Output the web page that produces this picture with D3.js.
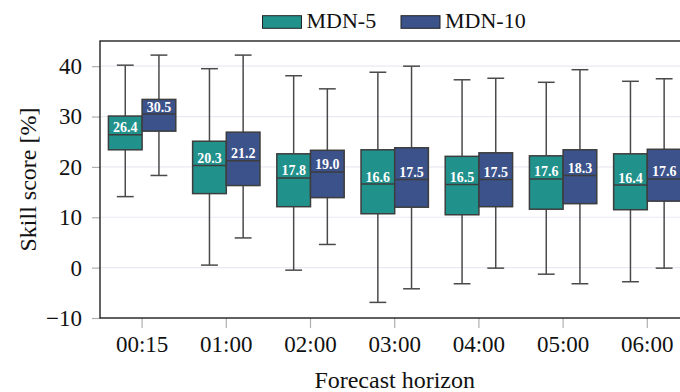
<!DOCTYPE html>
<html>
<head>
<meta charset="utf-8">
<script src="https://cdn.jsdelivr.net/npm/d3@7"></script>
<style>
    body { margin: 0; background: #fff; }
    #chart { width: 680px; height: 392px; overflow: hidden; }
    svg text { font-family: "Times New Roman", Times, "Liberation Serif", "Nimbus Roman", FreeSerif, serif !important; }
</style>
</head>
<body>
<div id="chart"></div>
<script>
// data
var horizons = ["00:15", "01:00", "02:00", "03:00", "04:00", "05:00", "06:00"];
var seriesNames = ["MDN-5", "MDN-10"];
var seriesColors = ["#21918c", "#3b528b"];
var yTicks = [-10, 0, 10, 20, 30, 40];

// MDN-5
var mdn5Low = [14.1, 0.5, -0.5, -6.9, -3.2, -1.3, -2.8];
var mdn5Q1 = [23.4, 14.7, 12.1, 10.7, 10.5, 11.6, 11.5];
var mdn5Median = [26.4, 20.3, 17.8, 16.6, 16.5, 17.6, 16.4];
var mdn5Q3 = [30.1, 25.1, 22.6, 23.4, 22.1, 22.2, 22.6];
var mdn5High = [40.2, 39.5, 38.1, 38.8, 37.3, 36.8, 37.0];

// MDN-10
var mdn10Low = [18.3, 5.9, 4.6, -4.2, -0.1, -3.2, -0.1];
var mdn10Q1 = [27.1, 16.3, 13.9, 12.0, 12.1, 12.7, 13.2];
var mdn10Median = [30.5, 21.2, 19.0, 17.5, 17.5, 18.3, 17.6];
var mdn10Q3 = [33.4, 26.9, 23.3, 23.8, 22.8, 23.4, 23.5];
var mdn10High = [42.2, 42.2, 35.5, 40.0, 37.6, 39.3, 37.5];

class BoxChart {
    constructor(_element) {
        this.element = _element;
        this.initVis();
    }
    initVis() {
        var vis = this;
        vis.margin = { left: 100, top: 41, bottom: 74 };
        vis.plotWidth = 589.4;
        vis.height = 392 - vis.margin.top - vis.margin.bottom;

        vis.svg = d3.select(vis.element)
            .append("svg")
            .attr("width", 680)
            .attr("height", 392);
        vis.g = vis.svg.append("g")
            .attr("transform", "translate(" + vis.margin.left + ", " + vis.margin.top + ")");

        vis.x = d3.scaleBand().domain(horizons).range([0, vis.plotWidth]).padding(0);
        vis.x1 = d3.scaleBand().domain(seriesNames)
            .range([0, vis.x.bandwidth() * 0.8]).padding(0);
        vis.y = d3.scaleLinear().domain([-10, 45]).range([vis.height, 0]);

        // grid
        vis.g.append("g").selectAll("line")
            .data(yTicks)
            .enter().append("line")
            .attr("x1", 0)
            .attr("x2", vis.plotWidth)
            .attr("y1", d => vis.y(d))
            .attr("y2", d => vis.y(d))
            .attr("stroke", "#eaeaf2")
            .attr("stroke-width", 1.2);

        vis.yAxis = vis.g.append("g")
            .call(d3.axisLeft(vis.y).tickValues(yTicks).tickSize(8).tickPadding(10)
                .tickFormat(d => d < 0 ? "\u2212" + Math.abs(d) : d));
        vis.xAxis = vis.g.append("g")
            .attr("transform", "translate(0," + vis.height + ")")
            .call(d3.axisBottom(vis.x).tickSize(10).tickPadding(8));
        vis.svg.selectAll(".domain").remove();
        vis.svg.selectAll(".tick line").attr("stroke", "#b0b0b0").attr("stroke-width", 1.2);
        vis.svg.selectAll(".tick text")
            .attr("font-size", "23px")
            .attr("fill", "#111");

        vis.g.append("text")
            .attr("x", vis.plotWidth / 2)
            .attr("y", 387.5 - vis.margin.top)
            .attr("font-size", "24px")
            .attr("text-anchor", "middle")
            .attr("fill", "#111")
            .text("Forecast horizon");
        vis.g.append("text")
            .attr("x", -(vis.height / 2))
            .attr("y", 36 - vis.margin.left)
            .attr("font-size", "24px")
            .attr("text-anchor", "middle")
            .attr("fill", "#111")
            .attr("transform", "rotate(-90)")
            .text("Skill score [%]");

        vis.wrangleData();
    }
    wrangleData() {
        var vis = this;
        var stats = [
            [mdn5Low, mdn5Q1, mdn5Median, mdn5Q3, mdn5High],
            [mdn10Low, mdn10Q1, mdn10Median, mdn10Q3, mdn10High]
        ];
        vis.boxes = [];
        seriesNames.forEach(function (s, si) {
            horizons.forEach(function (h, i) {
                vis.boxes.push({
                    horizon: h, series: s, color: seriesColors[si],
                    low: stats[si][0][i], q1: stats[si][1][i], median: stats[si][2][i],
                    q3: stats[si][3][i], high: stats[si][4][i]
                });
            });
        });
        vis.updateVis();
    }
    updateVis() {
        var vis = this;
        var offset = vis.x.bandwidth() * 0.1;
        var bw = vis.x1.bandwidth();
        var left = d => vis.x(d.horizon) + offset + vis.x1(d.series);
        var mid = d => left(d) + bw / 2;

        var box = vis.g.append("g").selectAll("g")
            .data(vis.boxes)
            .enter().append("g");

        // whiskers
        box.append("line")
            .attr("x1", mid).attr("x2", mid)
            .attr("y1", d => vis.y(d.q3)).attr("y2", d => vis.y(d.high))
            .attr("stroke", "#4a4a4a").attr("stroke-width", 1.5);
        box.append("line")
            .attr("x1", mid).attr("x2", mid)
            .attr("y1", d => vis.y(d.q1)).attr("y2", d => vis.y(d.low))
            .attr("stroke", "#4a4a4a").attr("stroke-width", 1.5);
        ["high", "low"].forEach(function (k) {
            box.append("line")
                .attr("x1", d => mid(d) - bw / 4).attr("x2", d => mid(d) + bw / 4)
                .attr("y1", d => vis.y(d[k])).attr("y2", d => vis.y(d[k]))
                .attr("stroke", "#4a4a4a").attr("stroke-width", 1.5);
        });

        box.append("rect")
            .attr("x", left)
            .attr("y", d => vis.y(d.q3))
            .attr("width", bw)
            .attr("height", d => vis.y(d.q1) - vis.y(d.q3))
            .attr("fill", d => d.color)
            .attr("stroke", "#3d3d3d")
            .attr("stroke-width", 1.5);
        box.append("line")
            .attr("x1", left).attr("x2", d => left(d) + bw)
            .attr("y1", d => vis.y(d.median)).attr("y2", d => vis.y(d.median))
            .attr("stroke", "#3d3d3d").attr("stroke-width", 1.5);
        box.append("text")
            .attr("x", mid)
            .attr("y", d => vis.y(d.median) - 2.5)
            .attr("text-anchor", "middle")
            .attr("font-size", "14px")
            .attr("font-weight", "bold")
            .attr("fill", "#fff")
            .text(d => d.median.toFixed(1));

        // frame
        vis.g.append("rect")
            .attr("x", 0).attr("y", 0)
            .attr("width", vis.plotWidth).attr("height", vis.height)
            .attr("fill", "none")
            .attr("stroke", "#111")
            .attr("stroke-width", 1.3);

        // legend
        var legend = vis.svg.append("g").selectAll("g")
            .data(seriesNames)
            .enter().append("g")
            .attr("transform", (d, i) => "translate(" + [262.5, 401][i] + ",15.7)");
        legend.append("rect")
            .attr("width", 39).attr("height", 12.6)
            .attr("fill", (d, i) => seriesColors[i])
            .attr("stroke", "#222").attr("stroke-width", 1);
        legend.append("text")
            .attr("x", 44).attr("y", 12.6)
            .attr("font-size", "22px")
            .attr("fill", "#111")
            .text(d => d);
    }
}

new BoxChart("#chart");
</script>
</body>
</html>
